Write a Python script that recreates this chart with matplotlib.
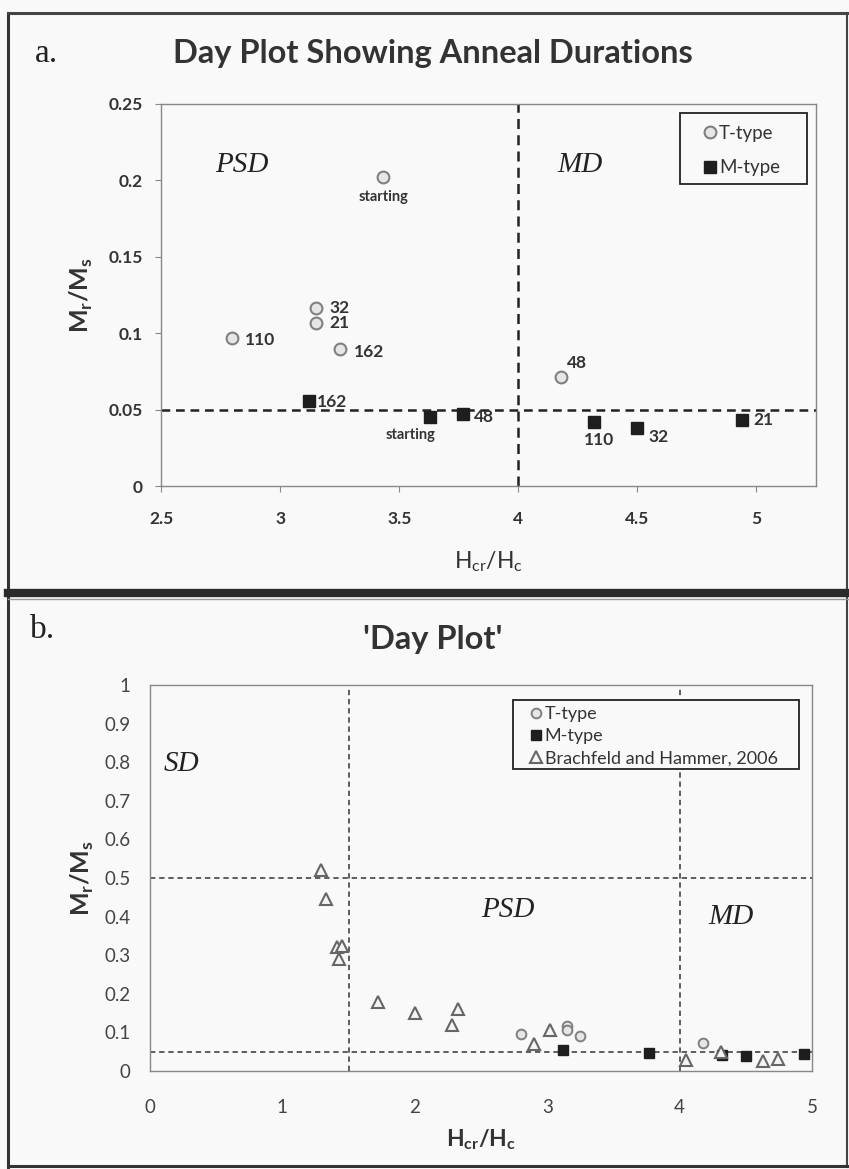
import numpy as np
import matplotlib
matplotlib.use('Agg')
import matplotlib.pyplot as plt
from matplotlib.lines import Line2D
from matplotlib.patches import Rectangle

plt.rcParams['font.family'] = ['Lato', 'DejaVu Sans']
plt.rcParams['mathtext.fontset'] = 'custom'
plt.rcParams['mathtext.bf'] = 'Lato:bold'
plt.rcParams['mathtext.sf'] = 'Lato'
plt.rcParams['mathtext.rm'] = 'Lato'

# panel a: T-type and M-type samples, labels = anneal durations
t_x = [3.43, 3.15, 3.15, 2.80, 3.25, 4.18]
t_y = [0.202, 0.1165, 0.1067, 0.097, 0.0897, 0.0713]
t_lab = ['starting', '32', '21', '110', '162', '48']

m_x = [3.12, 3.63, 3.77, 4.32, 4.50, 4.94]
m_y = [0.0556, 0.045, 0.047, 0.042, 0.038, 0.043]
m_lab = ['162', 'starting', '48', '110', '32', '21']

# panel b: Brachfeld and Hammer, 2006
bh_x = [1.29, 1.33, 1.41, 1.45, 1.43, 1.72, 2.00, 2.33, 2.28, 2.90, 3.02, 4.05, 4.31, 4.63, 4.74]
bh_y = [0.52, 0.445, 0.32, 0.325, 0.29, 0.18, 0.15, 0.16, 0.12, 0.07, 0.105, 0.028, 0.05, 0.025, 0.03]

xt_a = [2.5, 3, 3.5, 4, 4.5, 5]
yt_a = [0, 0.05, 0.1, 0.15, 0.2, 0.25]
xt_b = [0, 1, 2, 3, 4, 5]
yt_b = [0, 0.1, 0.2, 0.3, 0.4, 0.5, 0.6, 0.7, 0.8, 0.9, 1]

# label offsets in pixels (dx, dy) and alignment
off_t = {'starting': (1, -20, 'center'), '32': (14, 0, 'left'), '21': (14, 0, 'left'),
         '110': (12, -2, 'left'), '162': (14, -3, 'left'), '48': (6, 14, 'left')}
off_m = {'162': (8, -1, 'left'), 'starting': (-20, -18, 'center'), '48': (10, -3, 'left'),
         '110': (5, -18, 'center'), '32': (11, -9, 'left'), '21': (11, 0, 'left')}

W, H = 849, 1169
bg = '#f9f9f9'
fig = plt.figure(figsize=(W / 100, H / 100), dpi=100, facecolor=bg)

def fx(px):
    return px / W

def fy(py):
    return 1 - py / H

def fmt(v):
    s = ('%.2f' % v).rstrip('0').rstrip('.')
    return s

serif = ['Liberation Serif', 'DejaVu Serif']

# ---------- panel a ----------
ax = fig.add_axes([fx(161), fy(486), fx(816) - fx(161), fy(104) - fy(486)], facecolor=bg)
ax.set_xlim(2.5, 5.25)
ax.set_ylim(0, 0.25)
ax.axvline(4, color='#222', lw=1.8, dashes=(4, 2.5), zorder=1)
ax.axhline(0.05, color='#222', lw=1.8, dashes=(3.5, 2.3), zorder=1)
ax.plot(t_x, t_y, 'o', ms=8.5, mfc='#e6e6e6', mec='#808080', mew=1.5, ls='none', label='T-type', zorder=3)
ax.plot(m_x, m_y, 's', ms=8.5, mfc='#1e1e1e', mec='#1e1e1e', ls='none', label='M-type', zorder=3)
for x, y, lab in zip(t_x, t_y, t_lab):
    dx, dy, ha = off_t[lab]
    ax.annotate(lab, (x, y), xytext=(dx * 0.72, dy * 0.72), textcoords='offset points',
                ha=ha, va='center', fontsize=10.5 if lab == 'starting' else 12.5,
                fontweight='bold', color='#333')
for x, y, lab in zip(m_x, m_y, m_lab):
    dx, dy, ha = off_m[lab]
    ax.annotate(lab, (x, y), xytext=(dx * 0.72, dy * 0.72), textcoords='offset points',
                ha=ha, va='center', fontsize=10.5 if lab == 'starting' else 12.5,
                fontweight='bold', color='#333')
ax.text(2.84, 0.21, 'PSD', family=serif, style='italic', fontsize=21, color='#222',
        ha='center', va='center')
ax.text(4.26, 0.21, 'MD', family=serif, style='italic', fontsize=21, color='#222',
        ha='center', va='center')
ax.set_xticks(xt_a)
ax.set_xticklabels([fmt(v) for v in xt_a])
ax.set_yticks(yt_a)
ax.set_yticklabels([fmt(v) for v in yt_a])
ax.tick_params(axis='x', length=4, pad=14, labelsize=12.5, color='#888', labelcolor='#333')
ax.tick_params(axis='y', length=4, pad=9, labelsize=12.5, color='#888', labelcolor='#333')
for t in ax.get_xticklabels() + ax.get_yticklabels():
    t.set_fontweight('bold')
for s in ax.spines.values():
    s.set_color('#888')
    s.set_linewidth(1)
ax.set_xlabel(r'H$_\mathsf{cr}$/H$_\mathsf{c}$', fontsize=16.5, color='#333', labelpad=16)
ax.set_ylabel(r'M$_\mathbf{r}$/M$_\mathbf{s}$', fontsize=18, fontweight='bold', color='#333', labelpad=10)
ax.add_patch(Rectangle((0.792, 0.79), 0.194, 0.186, transform=ax.transAxes, facecolor=bg,
                       edgecolor='#222', lw=1.3, zorder=4))
leg = ax.legend(loc='upper left', bbox_to_anchor=(0.815, 0.965), frameon=False,
                borderaxespad=0, fontsize=13.5, labelspacing=0.94, handletextpad=0.1,
                handlelength=0.8)
leg.set_zorder(5)
for t in leg.get_texts():
    t.set_color('#333')

fig.text(fx(46), fy(54), 'a.', family=serif, fontsize=24, color='#222', ha='center', va='center')
fig.text(fx(433), fy(54), 'Day Plot Showing Anneal Durations', fontsize=23.5, fontweight='bold',
         color='#333', ha='center', va='center')

# ---------- panel b ----------
bx = fig.add_axes([fx(150), fy(1071), fx(812) - fx(150), fy(685) - fy(1071)], facecolor=bg)
bx.set_xlim(0, 5)
bx.set_ylim(0, 1)
for xv in [1.5, 4]:
    bx.axvline(xv, color='#333', lw=1.1, dashes=(3.5, 2.5), zorder=1)
for yv in [0.5, 0.05]:
    bx.axhline(yv, color='#333', lw=1.1, dashes=(3.5, 2.5), zorder=1)
# the starting samples are not shown in the Day plot
bx.plot(t_x[1:], t_y[1:], 'o', ms=7, mfc='#e6e6e6', mec='#808080', mew=1.4, ls='none', label='T-type', zorder=3)
bx.plot([m_x[0]] + m_x[2:], [m_y[0]] + m_y[2:], 's', ms=7, mfc='#1e1e1e', mec='#1e1e1e', ls='none',
        label='M-type', zorder=3)
bx.plot(bh_x, bh_y, '^', ms=8.5, mfc='#f4f4f4', mec='#666', mew=1.5, ls='none',
        label='Brachfeld and Hammer, 2006', zorder=3)
bx.text(0.235, 0.795, 'SD', family=serif, style='italic', fontsize=21, color='#222', ha='center', va='center')
bx.text(2.70, 0.417, 'PSD', family=serif, style='italic', fontsize=21, color='#222', ha='center', va='center')
bx.text(4.39, 0.40, 'MD', family=serif, style='italic', fontsize=21, color='#222', ha='center', va='center')
bx.set_xticks(xt_b)
bx.set_xticklabels([fmt(v) for v in xt_b])
bx.set_yticks(yt_b)
bx.set_yticklabels([fmt(v) for v in yt_b])
bx.tick_params(axis='x', length=0, pad=20, labelsize=13.5, labelcolor='#444')
bx.tick_params(axis='y', length=0, pad=14, labelsize=13.5, labelcolor='#444')
for s in bx.spines.values():
    s.set_color('#888')
    s.set_linewidth(1)
bx.set_xlabel(r'H$_\mathbf{cr}$/H$_\mathbf{c}$', fontsize=16.5, fontweight='bold', color='#333', labelpad=8)
bx.set_ylabel(r'M$_\mathbf{r}$/M$_\mathbf{s}$', fontsize=18, fontweight='bold', color='#333', labelpad=6)
bx.add_patch(Rectangle((0.548, 0.782), 0.432, 0.179, transform=bx.transAxes, facecolor=bg,
                       edgecolor='#222', lw=1.3, zorder=4))
leg2 = bx.legend(loc='upper left', bbox_to_anchor=(0.561, 0.964), frameon=False,
                 borderaxespad=0, fontsize=13, labelspacing=0.35, handletextpad=0.1,
                 handlelength=0.8)
leg2.set_zorder(5)
for t in leg2.get_texts():
    t.set_color('#333')

fig.text(fx(43), fy(630), 'b.', family=serif, fontsize=24, color='#222', ha='center', va='center')
fig.text(fx(433), fy(640), "'Day Plot'", fontsize=23.5, fontweight='bold', color='#333',
         ha='center', va='center')

# ---------- frames around the two panels ----------
def fline(x0, y0, x1, y1, lw, c):
    fig.add_artist(Line2D([fx(x0), fx(x1)], [fy(y0), fy(y1)], lw=lw, color=c,
                          transform=fig.transFigure))

fline(8, 13, 8, 1167, 2.2, '#333')
fline(8, 13, 849, 13, 2.2, '#444')
fline(847, 13, 847, 1167, 1.5, '#444')
fline(8, 1166, 849, 1166, 2.2, '#333')
fline(8, 593, 849, 593, 6, '#2a2a2a')
fline(8, 599, 849, 599, 1, '#999')

fig.savefig('out.png', dpi=100, facecolor=bg)
